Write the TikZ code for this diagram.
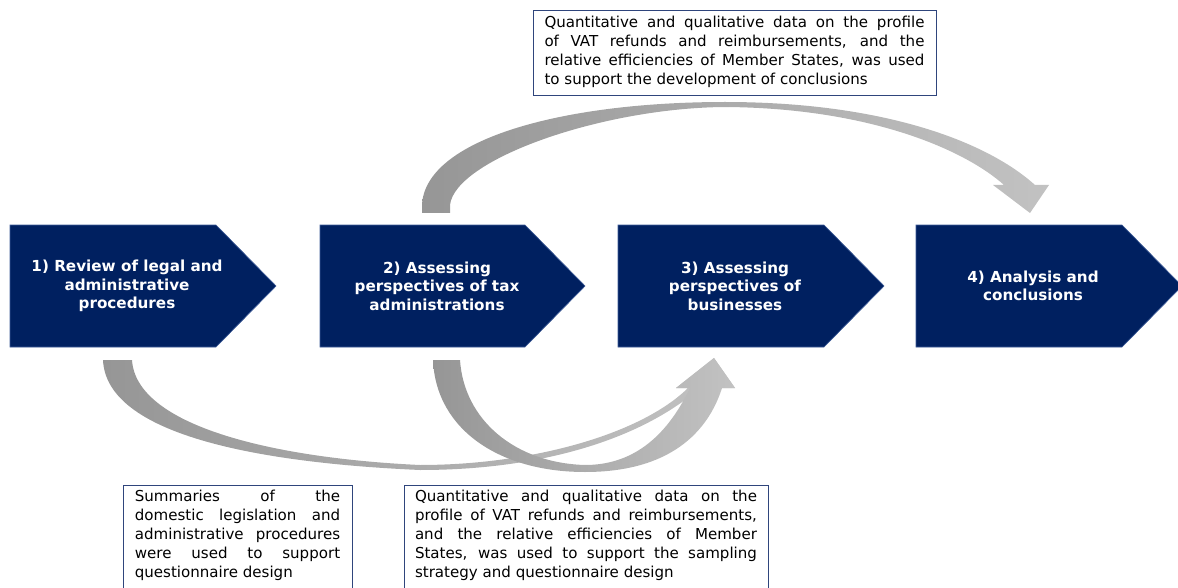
\documentclass[tikz,border=0pt]{standalone}
\usepackage{fontspec}
\setmainfont{DejaVu Sans}
\definecolor{navy}{RGB}{0,32,96}
\definecolor{navyedge}{RGB}{60,90,150}
\definecolor{boxline}{RGB}{47,69,124}
\definecolor{arrdark}{RGB}{150,150,150}
\definecolor{arrlight}{RGB}{194,194,194}
\begin{document}
\begin{tikzpicture}[x=0.75pt,y=-0.75pt,
  chevshape/.style={fill=navy,draw=navyedge,line width=0.5pt},
  chevtext/.style={text=white,font=\fontsize{11.4}{13.9}\selectfont\bfseries,align=center,inner sep=0pt},
  infobox/.style={draw=boxline,line width=0.8pt,fill=white,inner sep=0pt},
  infotext/.style={font=\fontsize{11.3}{14.25}\selectfont,align=justify,inner sep=0pt},
  bigarrow/.style={left color=arrdark,right color=arrlight,draw=none}]
\useasboundingbox (0,0) rectangle (1178,588);
\clip (0,0) rectangle (1178,588);

% chevrons
\path[chevshape] (10,225) -- (216,225) -- (276,286) -- (216,347) -- (10,347) -- cycle;
\path[chevshape] (320,225) -- (525,225) -- (585,286) -- (525,347) -- (320,347) -- cycle;
\path[chevshape] (618,225) -- (824,225) -- (884,286) -- (824,347) -- (618,347) -- cycle;
\path[chevshape] (916,225) -- (1122,225) -- (1182,286) -- (1122,347) -- (916,347) -- cycle;
\node[chevtext] (c1) at (127,286) {1) Review of legal and\\administrative\\procedures};
\node[chevtext] (c2) at (437,286) {2) Assessing\\perspectives of tax\\administrations};
\node[chevtext] (c3) at (735,286) {3) Assessing\\perspectives of\\businesses};
\node[chevtext] (c4) at (1033,286) {4) Analysis and\\conclusions};

% top curved arrow (2 -> 4)
\path[bigarrow] (422,213) -- (422,205) .. controls (425,140) and (560,102) .. (725,102)
  .. controls (880,102) and (985,140) .. (1035,185) -- (1049,185) -- (1030,213) -- (993,185) -- (1004,185)
  .. controls (965,150) and (870,108) .. (725,107)
  .. controls (600,108) and (455,160) .. (450,205) -- (450,213) -- cycle;

% bottom arrow A (1 -> 3)
\path[bigarrow] (103,360) .. controls (106,430) and (240,462) .. (420,470)
  .. controls (540,470) and (640,440) .. (700,388) -- (735,388) -- (714,358) -- (676,388) -- (688,388)
  .. controls (640,435) and (530,465) .. (420,465)
  .. controls (270,458) and (136,425) .. (132,360) -- cycle;

% bottom arrow B (2 -> 3)
\path[bigarrow] (433,360) .. controls (436,430) and (500,472) .. (585,472)
  .. controls (670,472) and (708,432) .. (722,388) -- (735,388) -- (714,358) -- (676,388) -- (690,388)
  .. controls (665,440) and (630,465) .. (585,465)
  .. controls (515,463) and (464,420) .. (460,360) -- cycle;

% top info box
\node[infobox,anchor=north west,minimum width=403*0.75pt,minimum height=85*0.75pt] (tb) at (533,10) {};
\node[infotext,text width=285pt] (tt) at (734.5,52) {Quantitative and qualitative data on the profile\linebreak of VAT refunds and reimbursements, and the\linebreak relative efficiencies of Member States, was used\linebreak to support the development of conclusions};

% bottom left box
\node[infobox,anchor=north west,minimum width=229*0.75pt,minimum height=130*0.75pt] (bl) at (123,485) {};
\node[infotext,text width=154pt] (blt) at (237.5,535) {Summaries of the\linebreak domestic legislation and\linebreak administrative procedures\linebreak were used to support\linebreak questionnaire design};

% bottom right box
\node[infobox,anchor=north west,minimum width=364*0.75pt,minimum height=130*0.75pt] (br) at (404,485) {};
\node[infotext,text width=256.5pt] (brt) at (586,535) {Quantitative and qualitative data on the\linebreak profile of VAT refunds and reimbursements,\linebreak and the relative efficiencies of Member\linebreak States, was used to support the sampling\linebreak strategy and questionnaire design};
\end{tikzpicture}
\end{document}
